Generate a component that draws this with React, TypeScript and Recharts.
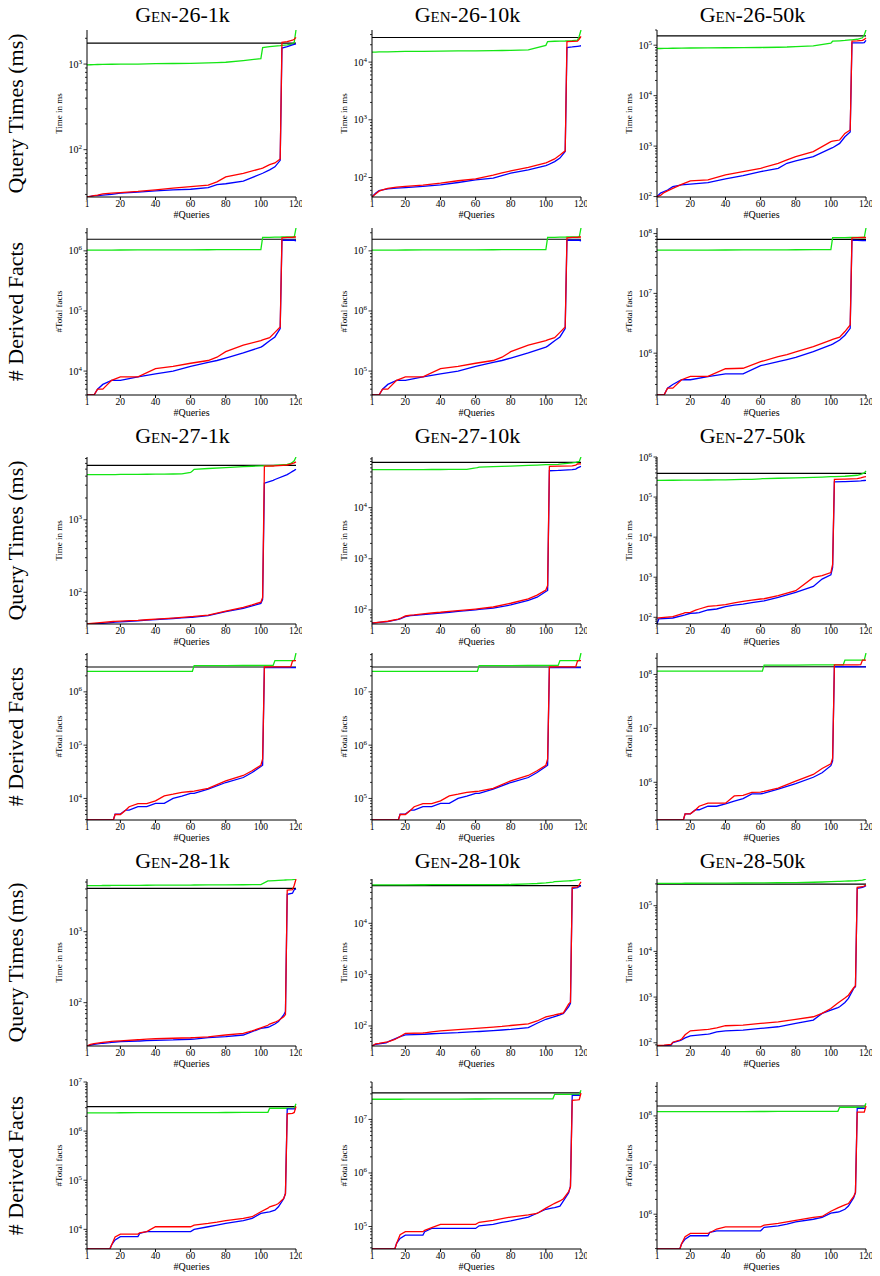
import React from 'react';
import { LineChart, Line, XAxis, YAxis, ReferenceLine } from 'recharts';

// ---------- query indices (x positions) per generator family ----------
const QUERY_TICKS = [1, 20, 40, 60, 80, 100, 120];
const Q26 = [1, 3, 5, 7, 10, 15, 20, 30, 40, 50, 60, 70, 75, 80, 90, 100, 101, 105, 108, 111, 112, 115, 118, 119, 120];
const Q27 = [1, 2, 10, 16, 17, 20, 23, 25, 30, 35, 40, 45, 50, 55, 60, 61, 62, 70, 80, 90, 95, 100, 101, 102, 107, 108, 115, 117, 118, 119, 120];
const Q28 = [1, 3, 5, 9, 10, 14, 15, 17, 20, 30, 31, 35, 40, 50, 60, 62, 70, 75, 80, 90, 95, 100, 104, 105, 108, 110, 113, 114, 115, 118, 119, 120];

// ---------- Gen-26 ----------
const gen26_1k_time_ref = 1760;
const gen26_1k_time_green = [980, 982, 985, 988, 990, 995, 1000, 1000, 1010, 1015, 1020, 1030, 1040, 1050, 1100, 1160, 1560, 1600, 1620, 1640, 1650, 1680, 1720, 1800, 2500];
const gen26_1k_time_blue = [28, 28.5, 29, 29, 29.5, 30, 31, 32, 33, 34, 34.5, 36, 39, 40, 43, 52, 53, 58, 63, 75, 1540, 1600, 1680, 1700, 1720];
const gen26_1k_time_red = [28, 28.5, 29, 29.5, 30.5, 31, 31.5, 32.5, 34, 35.5, 37, 38.5, 42, 48, 53, 60, 61, 67, 70, 78, 1790, 1830, 1900, 1950, 2050];

const gen26_10k_time_ref = 26700;
const gen26_10k_time_green = [14900, 14950, 15000, 15000, 15100, 15200, 15300, 15400, 15500, 15600, 15700, 15800, 15900, 16000, 16300, 19500, 22700, 23000, 23100, 23200, 23300, 23500, 24000, 28000, 36000];
const gen26_10k_time_blue = [46, 53.6, 59.6, 61, 63.7, 65.5, 67, 70, 74.7, 82, 91, 98, 108, 119, 136, 161, 165, 189, 217, 282, 17900, 18300, 18800, 19000, 19200];
const gen26_10k_time_red = [46, 52, 58, 61, 65, 68, 70, 74, 80, 88, 95, 110, 120, 130, 150, 180, 185, 210, 245, 290, 22700, 22800, 23000, 25000, 27800];

const gen26_50k_time_ref = 153000;
const gen26_50k_time_green = [86000, 86000, 86500, 86500, 87000, 87500, 88000, 88500, 89000, 89500, 90000, 91000, 92000, 94000, 97000, 110000, 120000, 122000, 124000, 127000, 128000, 131000, 140000, 160000, 200000];
const gen26_50k_time_blue = [100, 117, 126, 135, 157, 170, 176, 189, 224, 260, 312, 363, 457, 507, 617, 902, 930, 1130, 1530, 1900, 111000, 111000, 111000, 112000, 125000];
const gen26_50k_time_red = [100, 105, 120, 130, 145, 175, 205, 214, 269, 312, 363, 457, 531, 617, 776, 1230, 1250, 1320, 1780, 2090, 120000, 122000, 125000, 130000, 139000];

const gen26_1k_facts_ref = 1560000;
const gen26_1k_facts_green = [1030000, 1030000, 1030000, 1030000, 1030000, 1032000, 1034000, 1036000, 1038000, 1040000, 1042000, 1044000, 1045000, 1046000, 1048000, 1050000, 1670000, 1680000, 1690000, 1695000, 1700000, 1700000, 1700000, 1700000, 2400000];
const gen26_1k_facts_blue = [4000, 4000, 4000, 5000, 6000, 7000, 7000, 8000, 9000, 10000, 12000, 14000, 15000, 16500, 20000, 25000, 26000, 32000, 37000, 51000, 1500000, 1500000, 1500000, 1500000, 1470000];
const gen26_1k_facts_red = [4000, 4000, 4000, 5000, 5000, 7000, 8000, 8000, 11000, 12000, 13500, 15000, 17000, 21000, 27000, 32000, 33000, 36000, 44000, 54000, 1650000, 1670000, 1680000, 1700000, 1700000];

const gen26_10k_facts_ref = 15600000;
const gen26_10k_facts_green = [10300000, 10300000, 10300000, 10300000, 10300000, 10320000, 10340000, 10360000, 10380000, 10400000, 10420000, 10440000, 10450000, 10460000, 10480000, 10500000, 16700000, 16800000, 16900000, 16950000, 17000000, 17000000, 17000000, 17000000, 24000000];
const gen26_10k_facts_blue = [40000, 40000, 40000, 50000, 60000, 70000, 70000, 80000, 90000, 100000, 120000, 140000, 150000, 165000, 200000, 250000, 260000, 320000, 370000, 510000, 15000000, 15000000, 15000000, 15000000, 14700000];
const gen26_10k_facts_red = [40000, 40000, 40000, 50000, 50000, 70000, 80000, 80000, 110000, 120000, 135000, 150000, 170000, 210000, 270000, 320000, 330000, 360000, 440000, 540000, 16500000, 16700000, 16800000, 17000000, 17000000];

const gen26_50k_facts_ref = 80000000;
const gen26_50k_facts_green = [52700000, 52700000, 52700000, 52800000, 52800000, 52900000, 53000000, 53100000, 53200000, 53300000, 53400000, 53500000, 53600000, 53700000, 53800000, 54000000, 85700000, 85800000, 85900000, 86000000, 86000000, 86000000, 86000000, 86000000, 124000000];
const gen26_50k_facts_blue = [200000, 200000, 200000, 260000, 300000, 360000, 360000, 407000, 450000, 450000, 620000, 720000, 780000, 850000, 1060000, 1380000, 1420000, 1660000, 2000000, 2600000, 77600000, 77000000, 76500000, 76000000, 76000000];
const gen26_50k_facts_red = [200000, 200000, 200000, 260000, 260000, 360000, 410000, 410000, 550000, 560000, 720000, 880000, 950000, 1050000, 1290000, 1660000, 1700000, 1850000, 2300000, 2970000, 85000000, 85500000, 86000000, 86000000, 86000000];

// ---------- Gen-27 ----------
const gen27_1k_time_ref = 5640;
const gen27_1k_time_green = [4190, 4190, 4200, 4210, 4210, 4220, 4230, 4230, 4240, 4250, 4260, 4270, 4280, 4300, 4500, 4700, 4970, 5100, 5250, 5400, 5480, 5550, 5560, 5570, 5600, 5620, 5800, 6000, 6200, 6500, 7350];
const gen27_1k_time_blue = [36.5, 36.6, 37.3, 38.5, 38.7, 39, 39.5, 39.8, 40.5, 41.2, 42, 42.8, 43.5, 44.2, 45, 45.2, 45.4, 47.5, 54, 60, 65, 70, 80, 3200, 3500, 3600, 4200, 4500, 4650, 4800, 4970];
const gen27_1k_time_red = [36.5, 36.8, 38.5, 39.5, 39.6, 40, 40.4, 40.6, 41, 41.8, 42.5, 43.2, 44, 45, 46, 46.2, 46.5, 48.5, 55, 62, 67, 73, 85, 5500, 5520, 5530, 5700, 5850, 6000, 6100, 6300];

const gen27_10k_time_ref = 77000;
const gen27_10k_time_green = [55300, 55300, 55400, 55500, 55500, 55600, 55600, 55700, 55700, 55800, 55800, 55900, 56000, 56000, 60000, 61000, 62300, 63500, 65000, 67000, 68000, 69200, 69400, 69600, 70500, 71000, 75000, 77000, 78500, 80000, 98000];
const gen27_10k_time_blue = [55.5, 56, 58.9, 65, 66.6, 74, 77, 78, 81, 84, 87, 90, 94, 97, 100, 101, 102, 108, 125, 153, 177, 229, 240, 52800, 53500, 53800, 55300, 57000, 60000, 62000, 64000];
const gen27_10k_time_red = [55.5, 56, 60, 66, 68, 76, 79, 80, 84, 87, 90, 94, 97, 100, 104, 105, 106, 114, 135, 165, 195, 245, 300, 64300, 64800, 65000, 66000, 68000, 71500, 71800, 72000];

const gen27_50k_time_ref = 392000;
const gen27_50k_time_green = [262000, 262000, 263000, 264000, 264000, 265000, 266000, 266000, 267000, 268000, 270000, 272000, 275000, 278000, 286000, 288000, 289000, 295000, 302000, 310000, 316000, 323000, 324000, 325000, 330000, 331000, 350000, 370000, 385000, 400000, 448000];
const gen27_50k_time_blue = [68, 91, 96, 112, 115, 126, 128, 130, 152, 161, 184, 200, 214, 232, 250, 253, 256, 315, 419, 590, 900, 1150, 1760, 239000, 242000, 243000, 250000, 253000, 256000, 259000, 262000];
const gen27_50k_time_red = [95, 97, 104, 125, 130, 133, 150, 161, 188, 195, 207, 230, 250, 268, 286, 288, 290, 346, 460, 990, 1090, 1310, 2100, 277000, 280000, 281000, 290000, 300000, 310000, 318000, 323000];

const gen27_1k_facts_ref = 2930000;
const gen27_1k_facts_green = [2430000, 2430000, 2430000, 2430000, 2430000, 2430000, 2430000, 2430000, 2430000, 2430000, 2430000, 2430000, 2430000, 2430000, 2430000, 2430000, 3100000, 3100000, 3110000, 3120000, 3120000, 3130000, 3130000, 3130000, 3130000, 3860000, 3860000, 3860000, 3860000, 3860000, 5360000];
const gen27_1k_facts_blue = [3940, 3940, 3940, 3940, 5100, 5100, 6050, 6050, 7000, 7000, 8060, 8060, 10000, 11000, 12400, 12400, 12500, 14900, 19900, 24700, 30600, 39700, 42000, 2850000, 2850000, 2850000, 2850000, 2850000, 2850000, 2850000, 2850000];
const gen27_1k_facts_red = [3940, 3940, 3940, 3940, 5000, 5000, 6000, 7000, 8000, 8000, 9000, 11200, 12000, 13000, 13500, 13600, 13700, 15500, 21400, 27000, 33000, 42000, 55000, 2930000, 2940000, 2940000, 2950000, 2950000, 3800000, 3860000, 3860000];

const gen27_10k_facts_ref = 29300000;
const gen27_10k_facts_green = [24300000, 24300000, 24300000, 24300000, 24300000, 24300000, 24300000, 24300000, 24300000, 24300000, 24300000, 24300000, 24300000, 24300000, 24300000, 24300000, 31000000, 31000000, 31100000, 31200000, 31200000, 31300000, 31300000, 31300000, 31300000, 38600000, 38600000, 38600000, 38600000, 38600000, 53600000];
const gen27_10k_facts_blue = [39400, 39400, 39400, 39400, 51000, 51000, 60500, 60500, 70000, 70000, 80600, 80600, 100000, 110000, 124000, 124000, 125000, 149000, 199000, 247000, 306000, 397000, 420000, 28500000, 28500000, 28500000, 28500000, 28500000, 28500000, 28500000, 28500000];
const gen27_10k_facts_red = [39400, 39400, 39400, 39400, 50000, 50000, 60000, 70000, 80000, 80000, 90000, 112000, 120000, 130000, 135000, 136000, 137000, 155000, 214000, 270000, 330000, 420000, 550000, 29300000, 29400000, 29400000, 29500000, 29500000, 38000000, 38600000, 38600000];

const gen27_50k_facts_ref = 139000000;
const gen27_50k_facts_green = [115000000, 115000000, 115000000, 115000000, 115000000, 115000000, 115000000, 115000000, 115000000, 115000000, 115000000, 115000000, 115000000, 115000000, 115000000, 115000000, 149000000, 149000000, 149500000, 150000000, 150000000, 150000000, 150000000, 150000000, 150000000, 184000000, 184000000, 184000000, 184000000, 184000000, 250000000];
const gen27_50k_facts_blue = [200000, 200000, 200000, 200000, 260000, 260000, 310000, 310000, 360000, 360000, 400000, 450000, 500000, 610000, 610000, 620000, 630000, 750000, 950000, 1240000, 1500000, 2030000, 2500000, 139000000, 139000000, 139000000, 138000000, 138000000, 138000000, 138000000, 138000000];
const gen27_50k_facts_red = [200000, 200000, 200000, 200000, 260000, 260000, 310000, 360000, 410000, 410000, 410000, 560000, 570000, 650000, 660000, 670000, 680000, 780000, 1050000, 1400000, 1800000, 2200000, 2800000, 150000000, 150000000, 150000000, 150000000, 152000000, 185000000, 185000000, 185000000];

// ---------- Gen-28 ----------
const gen28_1k_time_ref = 4070;
const gen28_1k_time_green = [4450, 4450, 4460, 4460, 4470, 4470, 4480, 4480, 4490, 4500, 4500, 4510, 4520, 4530, 4540, 4545, 4550, 4560, 4570, 4580, 4590, 4600, 5180, 5200, 5250, 5280, 5320, 5340, 5350, 5400, 5450, 5520];
const gen28_1k_time_blue = [24.5, 25.2, 25.9, 26.6, 26.8, 27.4, 27.6, 27.9, 28.2, 28.8, 28.8, 29.2, 29.5, 29.8, 30.5, 30.7, 32.1, 32.6, 33.2, 35, 39, 43.5, 45, 46, 50, 54, 67, 75, 3360, 3480, 3900, 4000];
const gen28_1k_time_red = [24.5, 25.8, 26.5, 27.3, 27.5, 28.2, 28.4, 28.7, 29, 30, 30.1, 30.6, 31, 31.5, 32, 32.2, 33, 34, 35, 37, 40, 44, 48, 50, 53, 56, 63, 68, 3860, 3900, 4500, 5500];

const gen28_10k_time_ref = 54200;
const gen28_10k_time_green = [55900, 55900, 56000, 56000, 56100, 56100, 56200, 56200, 56300, 56400, 56400, 56500, 56500, 56600, 56700, 56700, 56800, 56900, 57000, 58500, 59700, 61500, 63500, 64700, 65500, 66200, 67200, 67500, 67900, 70000, 71000, 73000];
const gen28_10k_time_blue = [40.7, 44, 45, 47, 49, 56, 58, 62, 66.8, 68.8, 69, 70.5, 72, 74, 77.5, 78, 81, 83.5, 86, 93, 113, 135, 148, 152, 165, 176, 238, 276, 47900, 49500, 52000, 54000];
const gen28_10k_time_red = [40.7, 45, 46, 48.5, 49, 55, 57, 62, 72, 73, 73.5, 77, 80, 85, 90, 91, 95, 98, 102, 110, 125, 150, 160, 165, 173, 180, 270, 290, 50000, 51000, 56000, 64700];

const gen28_50k_time_ref = 298000;
const gen28_50k_time_green = [308000, 308000, 308500, 309000, 309000, 309500, 309500, 310000, 310000, 311000, 311000, 312000, 313000, 314000, 316000, 316000, 318000, 319000, 320000, 326000, 330000, 336000, 340000, 341000, 345000, 347000, 351000, 352000, 353000, 362000, 370000, 384000];
const gen28_50k_time_blue = [85, 86, 87, 89, 101, 112, 115, 128, 142, 155, 157, 174, 183, 189, 206, 210, 224, 244, 265, 314, 439, 518, 590, 614, 760, 935, 1550, 1690, 240000, 251000, 262000, 275000];
const gen28_50k_time_red = [88, 88, 89, 92, 103, 115, 120, 150, 183, 196, 198, 213, 236, 244, 265, 270, 288, 305, 324, 371, 439, 564, 740, 790, 950, 1100, 1600, 1770, 251000, 260000, 270000, 283000];

const gen28_1k_facts_ref = 3160000;
const gen28_1k_facts_green = [2360000, 2360000, 2360000, 2360000, 2360000, 2360000, 2360000, 2360000, 2365000, 2370000, 2370000, 2370000, 2375000, 2380000, 2385000, 2385000, 2390000, 2390000, 2395000, 2400000, 2400000, 2400000, 2410000, 2920000, 2920000, 2920000, 2920000, 2920000, 2920000, 2930000, 2950000, 3600000];
const gen28_1k_facts_blue = [3980, 3980, 3980, 3980, 3980, 3980, 4800, 6100, 7100, 7100, 8300, 9000, 9000, 9000, 9000, 10000, 11300, 12200, 13200, 15000, 16700, 21100, 22500, 22800, 24600, 28800, 42000, 53600, 2840000, 2840000, 2840000, 2840000];
const gen28_1k_facts_red = [3980, 3980, 3980, 3980, 3980, 3980, 4800, 7000, 8000, 8000, 8500, 9000, 11300, 11300, 11300, 12200, 13200, 14000, 15000, 16700, 18100, 22800, 27000, 28800, 31000, 33600, 42500, 53600, 2240000, 2300000, 2400000, 3160000];

const gen28_10k_facts_ref = 31200000;
const gen28_10k_facts_green = [23800000, 23800000, 23800000, 23800000, 23800000, 23800000, 23800000, 23800000, 23850000, 23900000, 23900000, 23900000, 23950000, 24000000, 24050000, 24050000, 24100000, 24100000, 24150000, 24200000, 24200000, 24200000, 24250000, 29400000, 29400000, 29400000, 29400000, 29400000, 29400000, 29450000, 29500000, 35000000];
const gen28_10k_facts_blue = [38000, 38000, 38000, 38000, 38000, 38000, 48400, 60000, 69000, 69000, 80000, 92000, 92000, 92000, 92000, 103000, 110000, 119000, 127000, 150000, 177000, 210000, 222000, 225000, 240000, 300000, 426000, 566000, 28200000, 28200000, 28200000, 28200000];
const gen28_10k_facts_red = [38000, 38000, 38000, 38000, 38000, 38000, 48000, 70000, 80000, 80000, 85000, 95000, 110000, 110000, 110000, 120000, 130000, 140000, 150000, 165000, 175000, 220000, 260000, 270000, 300000, 330000, 450000, 550000, 22800000, 23200000, 23500000, 31000000];

const gen28_50k_facts_ref = 159000000;
const gen28_50k_facts_green = [122000000, 122000000, 122000000, 122000000, 122000000, 122000000, 122000000, 122000000, 122200000, 122400000, 122400000, 122500000, 122600000, 122800000, 123000000, 123000000, 123200000, 123300000, 123400000, 123600000, 123800000, 124000000, 124000000, 150000000, 150000000, 150000000, 150000000, 150000000, 150000000, 150000000, 151000000, 180000000];
const gen28_50k_facts_blue = [196000, 196000, 196000, 196000, 196000, 196000, 250000, 310000, 365000, 365000, 426000, 460000, 460000, 460000, 460000, 540000, 580000, 630000, 700000, 790000, 860000, 1050000, 1110000, 1130000, 1260000, 1470000, 2170000, 2740000, 143000000, 143000000, 143000000, 143000000];
const gen28_50k_facts_red = [196000, 196000, 196000, 196000, 196000, 196000, 250000, 350000, 407000, 407000, 420000, 500000, 555000, 555000, 555000, 600000, 650000, 700000, 750000, 860000, 900000, 1150000, 1350000, 1400000, 1550000, 1650000, 2300000, 2800000, 119000000, 119000000, 119000000, 159000000];

// ---------- text ----------
const TITLES = ['Gen-26-1k', 'Gen-26-10k', 'Gen-26-50k', 'Gen-27-1k', 'Gen-27-10k', 'Gen-27-50k', 'Gen-28-1k', 'Gen-28-10k', 'Gen-28-50k'];
const ROW_LABELS = ['Query Times (ms)', '# Derived Facts'];
const TIME_LABEL = 'Time in ms';
const FACTS_LABEL = '#Total facts';
const X_LABEL = '#Queries';

type Panel = {
  queries: number[];
  ref: number;
  green: number[];
  blue: number[];
  red: number[];
  domain: [number, number];
  yLabel: string;
};

// panels in reading order: 6 rows x 3 columns
const PANELS: Panel[] = [
  { queries: Q26, ref: gen26_1k_time_ref, green: gen26_1k_time_green, blue: gen26_1k_time_blue, red: gen26_1k_time_red, domain: [28, 2500], yLabel: TIME_LABEL },
  { queries: Q26, ref: gen26_10k_time_ref, green: gen26_10k_time_green, blue: gen26_10k_time_blue, red: gen26_10k_time_red, domain: [46, 36000], yLabel: TIME_LABEL },
  { queries: Q26, ref: gen26_50k_time_ref, green: gen26_50k_time_green, blue: gen26_50k_time_blue, red: gen26_50k_time_red, domain: [98, 200000], yLabel: TIME_LABEL },
  { queries: Q26, ref: gen26_1k_facts_ref, green: gen26_1k_facts_green, blue: gen26_1k_facts_blue, red: gen26_1k_facts_red, domain: [4000, 2400000], yLabel: FACTS_LABEL },
  { queries: Q26, ref: gen26_10k_facts_ref, green: gen26_10k_facts_green, blue: gen26_10k_facts_blue, red: gen26_10k_facts_red, domain: [40000, 24000000], yLabel: FACTS_LABEL },
  { queries: Q26, ref: gen26_50k_facts_ref, green: gen26_50k_facts_green, blue: gen26_50k_facts_blue, red: gen26_50k_facts_red, domain: [200000, 124000000], yLabel: FACTS_LABEL },
  { queries: Q27, ref: gen27_1k_time_ref, green: gen27_1k_time_green, blue: gen27_1k_time_blue, red: gen27_1k_time_red, domain: [36.5, 7350], yLabel: TIME_LABEL },
  { queries: Q27, ref: gen27_10k_time_ref, green: gen27_10k_time_green, blue: gen27_10k_time_blue, red: gen27_10k_time_red, domain: [53, 98000], yLabel: TIME_LABEL },
  { queries: Q27, ref: gen27_50k_time_ref, green: gen27_50k_time_green, blue: gen27_50k_time_blue, red: gen27_50k_time_red, domain: [68, 1000000], yLabel: TIME_LABEL },
  { queries: Q27, ref: gen27_1k_facts_ref, green: gen27_1k_facts_green, blue: gen27_1k_facts_blue, red: gen27_1k_facts_red, domain: [3940, 5360000], yLabel: FACTS_LABEL },
  { queries: Q27, ref: gen27_10k_facts_ref, green: gen27_10k_facts_green, blue: gen27_10k_facts_blue, red: gen27_10k_facts_red, domain: [39400, 53600000], yLabel: FACTS_LABEL },
  { queries: Q27, ref: gen27_50k_facts_ref, green: gen27_50k_facts_green, blue: gen27_50k_facts_blue, red: gen27_50k_facts_red, domain: [200000, 250000000], yLabel: FACTS_LABEL },
  { queries: Q28, ref: gen28_1k_time_ref, green: gen28_1k_time_green, blue: gen28_1k_time_blue, red: gen28_1k_time_red, domain: [24.5, 5520], yLabel: TIME_LABEL },
  { queries: Q28, ref: gen28_10k_time_ref, green: gen28_10k_time_green, blue: gen28_10k_time_blue, red: gen28_10k_time_red, domain: [40.7, 73000], yLabel: TIME_LABEL },
  { queries: Q28, ref: gen28_50k_time_ref, green: gen28_50k_time_green, blue: gen28_50k_time_blue, red: gen28_50k_time_red, domain: [85, 384000], yLabel: TIME_LABEL },
  { queries: Q28, ref: gen28_1k_facts_ref, green: gen28_1k_facts_green, blue: gen28_1k_facts_blue, red: gen28_1k_facts_red, domain: [3980, 10000000], yLabel: FACTS_LABEL },
  { queries: Q28, ref: gen28_10k_facts_ref, green: gen28_10k_facts_green, blue: gen28_10k_facts_blue, red: gen28_10k_facts_red, domain: [38000, 50000000], yLabel: FACTS_LABEL },
  { queries: Q28, ref: gen28_50k_facts_ref, green: gen28_50k_facts_green, blue: gen28_50k_facts_blue, red: gen28_50k_facts_red, domain: [196000, 490000000], yLabel: FACTS_LABEL },
];

// ---------- layout ----------
const SERIF = '"Liberation Serif", "Times New Roman", serif';
const COL_LEFT = [87, 372, 657];
const ROW_TOP = [30, 228, 457, 653, 879, 1082];
const TITLE_BASELINE = [22, 443, 868];
const PLOT_W = 209;
const PLOT_H = 167;
const Y_AXIS_W = 40;
const X_AXIS_H = 21;
const M_TOP = 8;
const M_RIGHT = 6;
const M_BOTTOM = 2;
const TICK_SIZE = 3;
const TICK_MARGIN = 2;
const COLORS = { ref: '#000000', green: '#14e614', blue: '#0000ff', red: '#ff0000' };

function logTicks(lo: number, hi: number): number[] {
  const out: number[] = [];
  for (let e = Math.floor(Math.log10(lo)); e <= Math.ceil(Math.log10(hi)); e++) {
    for (let m = 1; m <= 9; m++) {
      const v = m * Math.pow(10, e);
      if (v >= lo * 0.9999 && v <= hi * 1.0001) out.push(v);
    }
  }
  return out;
}

function decadeOf(v: number) {
  const e = Math.round(Math.log10(v));
  const major = Math.abs(v / Math.pow(10, e) - 1) < 1e-6;
  return { e, major };
}

const LeftTick = (props: any) => {
  const { x, y, payload } = props;
  const { e, major } = decadeOf(payload.value);
  const ax = x + TICK_SIZE + TICK_MARGIN;
  return (
    <g>
      <line x1={ax - (major ? 3.5 : 2)} x2={ax} y1={y} y2={y} stroke="#000" strokeWidth={0.8} />
      {major && (
        <text x={x} y={y + 3.5} textAnchor="end" fontSize={10} fontFamily={SERIF} fill="#000">
          10
          <tspan dy={-4} fontSize={7}>
            {e}
          </tspan>
        </text>
      )}
    </g>
  );
};

const RightTick = (props: any) => {
  const { x, y, payload } = props;
  const { major } = decadeOf(payload.value);
  const ax = x - TICK_SIZE - TICK_MARGIN;
  return <line x1={ax} x2={ax + (major ? 3.5 : 2)} y1={y} y2={y} stroke="#000" strokeWidth={0.8} />;
};

function PanelChart({ panel, index }: { panel: Panel; index: number }) {
  const row = Math.floor(index / 3);
  const col = index % 3;
  const data = panel.queries.map((q, i) => ({
    q,
    green: panel.green[i],
    blue: panel.blue[i],
    red: panel.red[i],
  }));
  const ticks = logTicks(panel.domain[0], panel.domain[1]);
  const width = Y_AXIS_W + PLOT_W + M_RIGHT;
  const height = M_TOP + PLOT_H + X_AXIS_H + M_BOTTOM;
  return (
    <div style={{ position: 'absolute', left: COL_LEFT[col] - Y_AXIS_W, top: ROW_TOP[row] - M_TOP }}>
      <LineChart width={width} height={height} data={data} margin={{ top: M_TOP, right: M_RIGHT, bottom: M_BOTTOM, left: 0 }}>
        <XAxis
          xAxisId="bottom"
          dataKey="q"
          type="number"
          domain={[1, 120]}
          ticks={QUERY_TICKS}
          interval={0}
          height={X_AXIS_H}
          tickSize={TICK_SIZE}
          tickMargin={0}
          axisLine={{ stroke: '#000' }}
          tickLine={{ stroke: '#000' }}
          tick={{ fontSize: 9.5, fontFamily: SERIF, fill: '#000' }}
          label={{ value: X_LABEL, position: 'insideBottom', offset: 0, fontSize: 10, fontFamily: SERIF, fill: '#000' }}
        />
        <XAxis xAxisId="top" orientation="top" type="number" domain={[1, 120]} height={0} tick={false} tickLine={false} axisLine={{ stroke: '#000' }} />
        <YAxis
          yAxisId="left"
          type="number"
          scale="log"
          domain={panel.domain}
          allowDataOverflow
          ticks={ticks}
          interval={0}
          width={Y_AXIS_W}
          tickSize={TICK_SIZE}
          tickMargin={TICK_MARGIN}
          tickLine={false}
          axisLine={{ stroke: '#000' }}
          tick={<LeftTick />}
          label={{
            value: panel.yLabel,
            angle: -90,
            position: 'insideLeft',
            offset: 12,
            style: { textAnchor: 'middle', fontSize: 9, fontFamily: SERIF, fill: '#000' },
          }}
        />
        <YAxis
          yAxisId="right"
          orientation="right"
          type="number"
          scale="log"
          domain={panel.domain}
          allowDataOverflow
          ticks={ticks}
          interval={0}
          width={0}
          tickSize={TICK_SIZE}
          tickMargin={TICK_MARGIN}
          tickLine={false}
          axisLine={{ stroke: '#000' }}
          tick={<RightTick />}
        />
        <ReferenceLine xAxisId="bottom" yAxisId="left" y={panel.ref} stroke={COLORS.ref} strokeWidth={1.2} />
        <Line xAxisId="bottom" yAxisId="left" type="linear" dataKey="green" stroke={COLORS.green} strokeWidth={1.3} dot={false} isAnimationActive={false} />
        <Line xAxisId="bottom" yAxisId="left" type="linear" dataKey="blue" stroke={COLORS.blue} strokeWidth={1.3} dot={false} isAnimationActive={false} />
        <Line xAxisId="bottom" yAxisId="left" type="linear" dataKey="red" stroke={COLORS.red} strokeWidth={1.3} dot={false} isAnimationActive={false} />
      </LineChart>
    </div>
  );
}

export default function App() {
  return (
    <div style={{ position: 'absolute', left: 0, top: 0, width: 880, height: 1276, background: '#fff', fontFamily: SERIF }}>
      {PANELS.map((p, i) => (
        <PanelChart key={i} panel={p} index={i} />
      ))}
      <svg width={880} height={1276} style={{ position: 'absolute', left: 0, top: 0, pointerEvents: 'none' }}>
        {TITLES.map((t, i) => {
          const block = Math.floor(i / 3);
          const col = i % 3;
          const [head, ...rest] = t.split('-');
          return (
            <text
              key={t}
              x={COL_LEFT[col] + PLOT_W / 2 - 9}
              y={TITLE_BASELINE[block]}
              textAnchor="middle"
              fontSize={22}
              fontFamily={SERIF}
              fill="#000"
            >
              <tspan style={{ fontVariant: 'small-caps' }}>{head}</tspan>
              <tspan>{'-' + rest.join('-')}</tspan>
            </text>
          );
        })}
        {ROW_TOP.map((top, r) => {
          const cy = top + PLOT_H / 2;
          return (
            <text
              key={r}
              x={23}
              y={cy}
              transform={`rotate(-90 23 ${cy})`}
              textAnchor="middle"
              fontSize={22}
              fontFamily={SERIF}
              fill="#000"
            >
              {ROW_LABELS[r % 2]}
            </text>
          );
        })}
      </svg>
    </div>
  );
}
